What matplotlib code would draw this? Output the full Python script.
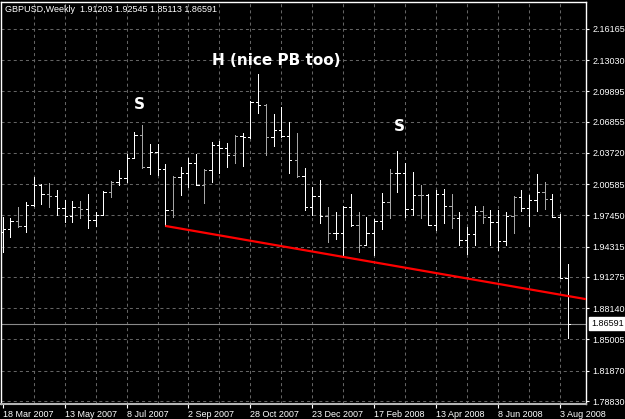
import matplotlib
matplotlib.use("Agg")
import matplotlib.pyplot as plt
from matplotlib.collections import LineCollection
from matplotlib.transforms import blended_transform_factory

plt.rcParams["lines.scale_dashes"] = False

# ---------------- data ----------------
header_text = "GBPUSD,Weekly  1.91203 1.92545 1.85113 1.86591"

opens = [1.9579, 1.9610, 1.9690, 1.9640, 1.9850, 2.0051, 1.9961, 1.9941, 1.9820, 1.9740,
         1.9830, 1.9810, 1.9700, 1.9750, 1.9981, 2.0081, 2.0121, 2.0322, 2.0553, 2.0232,
         2.0382, 2.0212, 1.9800, 2.0131, 2.0171, 2.0272, 2.0051, 2.0201, 2.0452, 2.0422,
         2.0352, 2.0543, 2.0533, 2.0884, 2.0854, 2.0533, 2.0603, 2.0543, 2.0302, 2.0141,
         1.9830, 1.9941, 1.9740, 1.9569, 1.9569, 1.9830, 1.9650, 1.9449, 1.9569, 1.9690,
         1.9880, 2.0171, 2.0171, 1.9810, 1.9951, 1.9951, 1.9650, 1.9961, 1.9840, 1.9720,
         1.9499, 1.9559, 1.9790, 1.9730, 1.9680, 1.9489, 1.9740, 1.9931, 1.9820, 1.9900,
         1.9981, 1.9911, 1.9730, 1.91203]
highs = [1.9730, 1.9720, 1.9830, 1.9880, 2.0131, 2.0061, 2.0071, 2.0001, 1.9900, 1.9890,
         1.9890, 1.9961, 1.9780, 1.9991, 2.0091, 2.0201, 2.0362, 2.0583, 2.0653, 2.0462,
         2.0462, 2.0262, 2.0141, 2.0232, 2.0322, 2.0362, 2.0212, 2.0482, 2.0492, 2.0472,
         2.0553, 2.0573, 2.0894, 2.1165, 2.0864, 2.0763, 2.0834, 2.0683, 2.0573, 2.0222,
         2.0031, 2.0101, 1.9830, 1.9780, 1.9840, 1.9961, 1.9780, 1.9730, 1.9710, 1.9971,
         2.0212, 2.0392, 2.0272, 2.0181, 2.0051, 1.9960, 2.0001, 2.0011, 1.9961, 1.9780,
         1.9630, 1.9840, 1.9840, 1.9800, 1.9800, 1.9780, 1.9941, 2.0001, 1.9951, 2.0161,
         2.0081, 1.9961, 1.9760, 1.92545]
lows = [1.9378, 1.9529, 1.9630, 1.9579, 1.9840, 1.9860, 1.9830, 1.9750, 1.9680, 1.9680,
        1.9720, 1.9620, 1.9640, 1.9750, 1.9931, 2.0051, 2.0081, 2.0322, 2.0222, 2.0161,
        2.0151, 1.9640, 1.9730, 1.9951, 2.0031, 2.0051, 1.9870, 2.0081, 2.0171, 2.0232,
        2.0272, 2.0242, 2.0523, 2.0773, 2.0352, 2.0442, 2.0533, 2.0171, 2.0131, 1.9800,
        1.9750, 1.9670, 1.9479, 1.9509, 1.9328, 1.9640, 1.9378, 1.9449, 1.9348, 1.9610,
        1.9720, 1.9981, 1.9730, 1.9750, 1.9720, 1.9650, 1.9599, 1.9670, 1.9620, 1.9449,
        1.9358, 1.9449, 1.9670, 1.9449, 1.9398, 1.9449, 1.9569, 1.9790, 1.9640, 1.9790,
        1.9810, 1.9730, 1.9120, 1.85113]
closes = [1.9610, 1.9690, 1.9640, 1.9850, 2.0051, 1.9961, 1.9941, 1.9820, 1.9740, 1.9830,
          1.9810, 1.9700, 1.9750, 1.9981, 2.0081, 2.0121, 2.0322, 2.0553, 2.0232, 2.0382,
          2.0212, 1.9800, 2.0131, 2.0171, 2.0272, 2.0051, 2.0201, 2.0452, 2.0422, 2.0352,
          2.0543, 2.0533, 2.0884, 2.0854, 2.0533, 2.0603, 2.0543, 2.0302, 2.0141, 1.9830,
          1.9941, 1.9740, 1.9569, 1.9569, 1.9830, 1.9650, 1.9449, 1.9569, 1.9690, 1.9880,
          2.0171, 2.0171, 1.9810, 1.9951, 1.9951, 1.9650, 1.9961, 1.9840, 1.9720, 1.9499,
          1.9559, 1.9790, 1.9730, 1.9680, 1.9489, 1.9740, 1.9931, 1.9820, 1.9900, 1.9981,
          1.9911, 1.9730, 1.9120, 1.86591]

date_labels = ["18 Mar 2007", "13 May 2007", "8 Jul 2007", "2 Sep 2007", "28 Oct 2007",
               "23 Dec 2007", "17 Feb 2008", "13 Apr 2008", "8 Jun 2008", "3 Aug 2008"]
date_label_bars = [0, 8, 16, 24, 32, 40, 48, 56, 64, 72]

price_ticks = [2.16165, 2.13030, 2.09895, 2.06855, 2.03720, 2.00585, 1.97450,
               1.94315, 1.91275, 1.88140, 1.85005, 1.81870, 1.78830]

trend_bars = [21, 73]
trend_prices = [1.9640, 1.8937]

last_price = 1.86591

annot_texts = ["S", "H (nice PB too)", "S"]
annot_bars = [17.6, 35.4, 51.3]
annot_prices = [2.0854, 2.1295, 2.0633]

# ---------------- figure ----------------
W, H = 625, 419
fig = plt.figure(figsize=(W / 100, H / 100), dpi=100, facecolor="black")
ax = fig.add_axes([1 / W, 1 - 404 / H, 585 / W, 402 / H], facecolor="black")

n = len(opens)
xmin, xmax = -0.22, 75.36
ymin, ymax = 1.7853, 2.1887
ax.set_xlim(xmin, xmax)
ax.set_ylim(ymin, ymax)

# grid
grid_color = "#646464"
for i in range(4, int(xmax) + 1, 4):
    ax.axvline(i, color=grid_color, lw=0.75, ls=(0, (2.2, 2.2)), zorder=0.5)
for p in price_ticks:
    ax.axhline(p, color=grid_color, lw=0.75, ls=(0, (2.2, 2.2)), zorder=0.5)

# current price line
ax.axhline(last_price, color="#8a8a8a", lw=0.8, zorder=1)

# OHLC bars
segs, cols = [], []
tick = 0.3
for i in range(n):
    c = "#a6a6a6" if i % 4 == 2 else "#ffffff"
    segs += [[(i, lows[i]), (i, highs[i])],
             [(i - tick, opens[i]), (i, opens[i])],
             [(i, closes[i]), (i + tick, closes[i])]]
    cols += [c, c, c]
lc = LineCollection(segs, colors=cols, linewidths=0.72, antialiased=False, zorder=3)
ax.add_collection(lc)

# trend line (extended to the right edge)
slope = (trend_prices[1] - trend_prices[0]) / (trend_bars[1] - trend_bars[0])
x_end = xmax
y_end = trend_prices[0] + slope * (x_end - trend_bars[0])
ax.plot([trend_bars[0], x_end], [trend_prices[0], y_end], color="#ff0000", lw=1.6,
        solid_capstyle="butt", zorder=4, clip_on=True)

# annotations
for t, xb, yp in zip(annot_texts, annot_bars, annot_prices):
    ax.text(xb, yp, t, color="white", fontsize=11, fontweight="bold",
            family="DejaVu Sans", ha="center", va="center", zorder=5)

# header
ax.text(4 / 585, 1 - 7 / 402, header_text, transform=ax.transAxes, color="white",
        fontsize=6.5, family="Liberation Sans", ha="left", va="center")

# axes styling
for s in ["left", "top", "right"]:
    ax.spines[s].set_color("white")
    ax.spines[s].set_linewidth(1.0)
ax.spines["bottom"].set_color("#b4b4b4")
ax.spines["bottom"].set_linewidth(1.5)

ax.yaxis.tick_right()
ax.set_yticks(price_ticks)
ax.set_yticklabels([f"{p:.5f}" for p in price_ticks], family="Liberation Sans",
                   fontsize=6.5, color="white")
ax.tick_params(axis="y", which="both", length=2.5, width=0.8, color="white", pad=2,
               left=False, right=True)

ax.set_xticks(date_label_bars)
ax.set_xticklabels(date_labels, family="Liberation Sans", fontsize=6.5, color="white")
for lab in ax.get_xticklabels():
    lab.set_horizontalalignment("left")
ax.tick_params(axis="x", length=3, width=0.8, color="white", pad=1)

# current price label box
tr = blended_transform_factory(ax.transAxes, ax.transData)
ax.text(1 + 5 / 585, last_price, f"{last_price:.5f}", transform=tr, color="black",
        fontsize=6.5, family="Liberation Sans", ha="left", va="center", zorder=10,
        bbox=dict(boxstyle="square,pad=0.2", facecolor="white", edgecolor="white"),
        clip_on=False)

fig.savefig("out.png", dpi=100, facecolor="black")
